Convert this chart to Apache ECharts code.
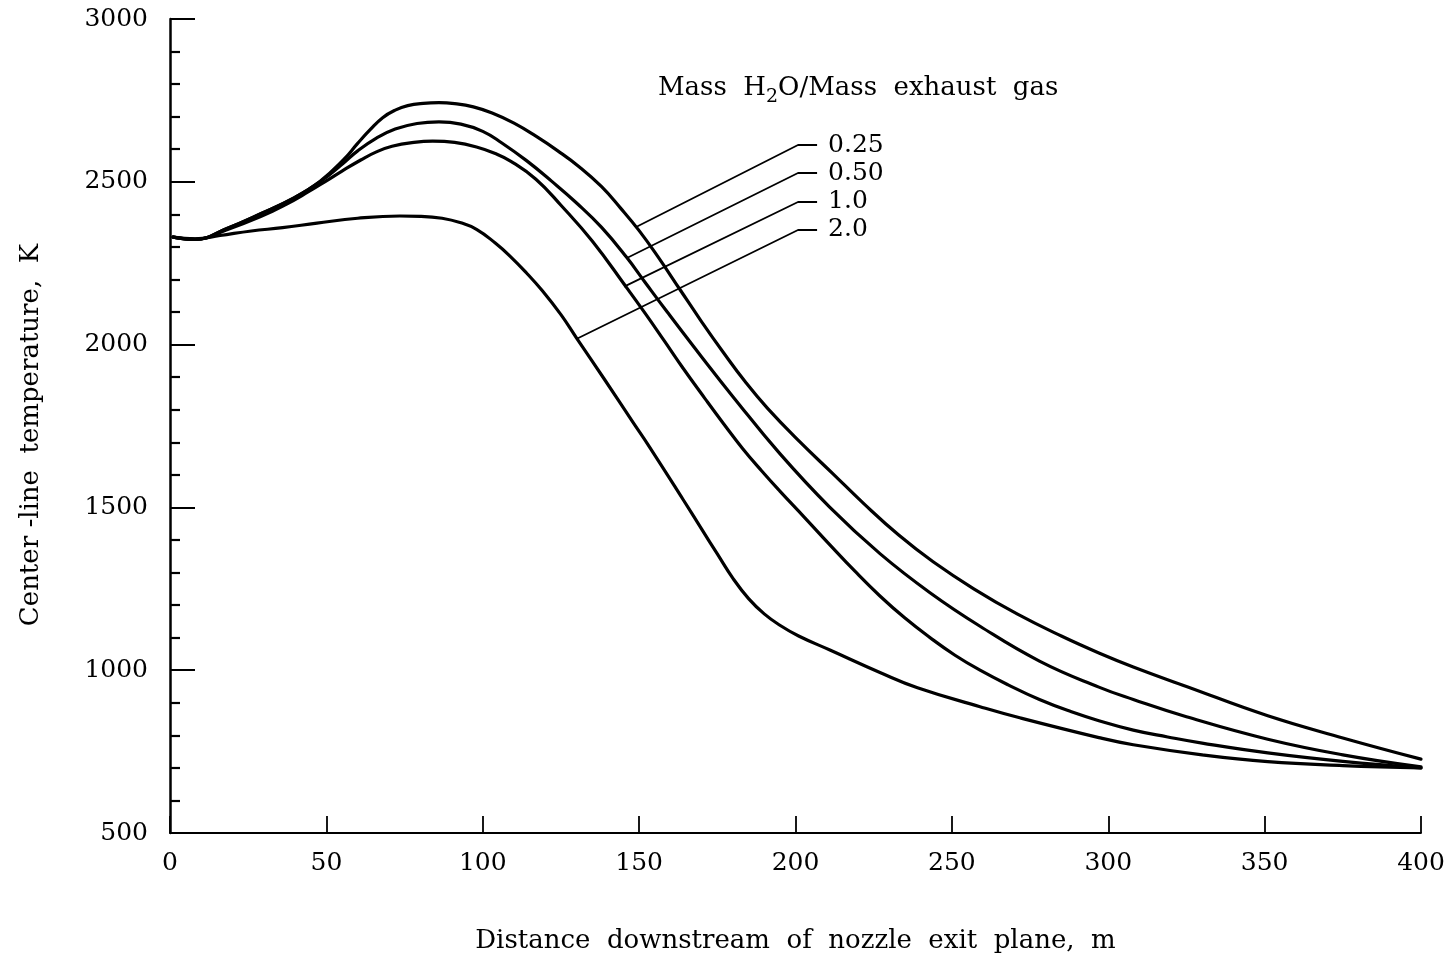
<!DOCTYPE html>
<html>
<head>
<meta charset="utf-8">
<script src="https://cdn.jsdelivr.net/npm/echarts@6/dist/echarts.min.js"></script>
<style>
html,body{margin:0;padding:0;background:#ffffff;}
#chart{width:1454px;height:960px;}
</style>
</head>
<body>
<div id="chart"></div>
<script>
// ---- data (distance downstream, m ; centre-line temperature, K) ----
const x025 = [1, 8, 18, 29, 39.5, 48, 55.5, 60, 64, 68, 72, 76, 81, 86, 91, 97, 103, 110, 117, 124, 131, 138, 144, 150, 156, 163, 170, 177, 184, 191, 201, 212, 222, 233, 244, 257, 271, 285, 297, 308, 325, 351, 375, 400];
const t025 = [2330, 2323, 2356, 2402, 2450, 2502, 2568, 2618, 2660, 2697, 2720, 2734, 2741, 2743, 2740, 2730, 2711, 2680, 2640, 2595, 2545, 2485, 2420, 2350, 2270, 2170, 2070, 1975, 1885, 1805, 1705, 1603, 1510, 1415, 1333, 1250, 1172, 1105, 1053, 1010, 950, 860, 792, 727];

const x050 = [1, 8, 18, 29, 39.5, 48, 55.5, 60, 66, 72, 79, 86, 93, 100, 106, 114, 122, 130, 138, 146, 152, 159, 170, 180, 195, 211, 227, 243, 259, 278, 297, 308, 325, 351, 375, 400];
const t050 = [2330, 2323, 2356, 2402, 2450, 2500, 2558, 2595, 2634, 2662, 2679, 2684, 2677, 2655, 2620, 2565, 2502, 2435, 2360, 2268, 2190, 2100, 1962, 1840, 1665, 1500, 1358, 1238, 1135, 1028, 948, 910, 857, 788, 740, 703];

const x100 = [1, 8, 18, 29, 37, 44, 50, 55, 61, 66, 71, 78, 84, 91, 98, 104, 109, 117, 125, 135, 146, 152, 158, 164, 171, 177, 183, 189, 195, 203, 211, 219, 227, 235, 243, 251, 259, 268, 278, 288, 297, 308, 319, 330, 351, 375, 400];
const t100 = [2330, 2323, 2352, 2393, 2430, 2468, 2503, 2533, 2567, 2592, 2609, 2621, 2625, 2621, 2607, 2587, 2563, 2508, 2428, 2318, 2175, 2095, 2012, 1928, 1835, 1757, 1682, 1614, 1550, 1468, 1385, 1304, 1228, 1160, 1100, 1046, 1000, 955, 910, 873, 845, 816, 795, 776, 746, 720, 700];

const x200 = [1, 8, 16, 26, 36, 47, 60, 73.5, 80, 87, 93, 98, 104, 108.7, 114, 119, 125, 130, 139, 148, 153.5, 164, 170, 175, 180, 185, 190, 195, 201, 211, 227, 239, 259, 272, 297, 308, 330, 351, 375, 400];
const t200 = [2330, 2325, 2335, 2349, 2359, 2373, 2388, 2395, 2394, 2388, 2374, 2354, 2312, 2272, 2220, 2166, 2092, 2020, 1892, 1762, 1683, 1525, 1433, 1357, 1282, 1220, 1173, 1138, 1105, 1062, 993, 946, 888, 853, 793, 771, 740, 719, 707, 700];

// leader lines from each curve to its label (data coordinates)
const leaderNames = ['0.25', '0.50', '1.0', '2.0'];
const leaderX = [
  [149.2, 200.8, 206.9],
  [146.1, 200.8, 206.9],
  [145.2, 200.8, 206.9],
  [130.1, 200.8, 206.9]
];
const leaderT = [
  [2362, 2613, 2613],
  [2266, 2527, 2527],
  [2178, 2438, 2438],
  [2018, 2352, 2352]
];

// axis ticks
const xMin = 0, xMax = 400, xStep = 50;
const yMin = 500, yMax = 3000, yStep = 500;

// legend heading pieces: text, subscript, text
const headParts = ['Mass  H', '2', 'O/Mass  exhaust  gas'];

const FONT = '"DejaVu Serif", "Liberation Serif", serif';
const FS = 25;
const HFS = 26;
const SUB = 19;

function pairs(xs, ts) { return xs.map((x, i) => [x, ts[i]]); }

const curves = [
  { name: '0.25', xs: x025, ts: t025 },
  { name: '0.50', xs: x050, ts: t050 },
  { name: '1.0', xs: x100, ts: t100 },
  { name: '2.0', xs: x200, ts: t200 }
];

const series = [];
curves.forEach(c => {
  series.push({
    name: c.name,
    type: 'line',
    data: pairs(c.xs, c.ts),
    smooth: 0.45,
    showSymbol: false,
    symbol: 'none',
    lineStyle: { color: '#000', width: 3.2, cap: 'round', join: 'round' },
    z: 3
  });
});

leaderNames.forEach((nm, k) => {
  series.push({
    name: 'leader ' + nm,
    type: 'line',
    data: pairs(leaderX[k], leaderT[k]),
    smooth: false,
    showSymbol: false,
    symbol: 'none',
    lineStyle: { color: '#000', width: 1.8 },
    endLabel: {
      show: true, formatter: nm, distance: 11,
      color: '#000', fontFamily: FONT, fontSize: FS
    },
    z: 2
  });
});

// measure heading parts for subscript placement
const mctx = document.createElement('canvas').getContext('2d');
function tw(t, size) { mctx.font = size + 'px "DejaVu Serif"'; return mctx.measureText(t).width; }
const hx0 = 658, hy0 = 75;
const w0 = tw(headParts[0], HFS), w1 = tw(headParts[1], SUB);

const chart = echarts.init(document.getElementById('chart'), null, { renderer: 'canvas' });
chart.setOption({
  animation: false,
  backgroundColor: '#ffffff',
  grid: { left: 170, right: 33, top: 19, bottom: 127, containLabel: false },
  xAxis: {
    type: 'value',
    min: xMin, max: xMax, interval: xStep,
    name: 'Distance  downstream  of  nozzle  exit  plane,  m',
    nameLocation: 'middle',
    nameGap: 95,
    nameTextStyle: { color: '#000', fontFamily: FONT, fontSize: 26 },
    axisLine: { show: true, onZero: false, lineStyle: { color: '#000', width: 1.8 } },
    axisTick: { show: true, inside: true, length: 17, lineStyle: { color: '#000', width: 1.8 } },
    axisLabel: { color: '#000', fontFamily: FONT, fontSize: FS, margin: 18, formatter: v => String(v) },
    splitLine: { show: false }
  },
  yAxis: {
    type: 'value',
    min: yMin, max: yMax, interval: yStep,
    name: 'Center -line  temperature,  K',
    nameLocation: 'middle',
    nameGap: 126,
    nameTextStyle: { color: '#000', fontFamily: FONT, fontSize: 26, padding: [0, 18, 0, 0] },
    axisLine: { show: true, onZero: false, lineStyle: { color: '#000', width: 2.5 } },
    axisTick: { show: true, inside: true, length: 25, lineStyle: { color: '#000', width: 2 } },
    minorTick: { show: true, splitNumber: 5, length: 10, lineStyle: { color: '#000', width: 2.2 } },
    axisLabel: { color: '#000', fontFamily: FONT, fontSize: FS, margin: 22, formatter: v => String(v) },
    splitLine: { show: false },
    minorSplitLine: { show: false }
  },
  graphic: [
    { type: 'text', x: hx0, y: hy0, style: { text: headParts[0], fill: '#000', font: HFS + 'px ' + FONT, textVerticalAlign: 'top' } },
    { type: 'text', x: hx0 + w0, y: hy0 + 13, style: { text: headParts[1], fill: '#000', font: SUB + 'px ' + FONT, textVerticalAlign: 'top' } },
    { type: 'text', x: hx0 + w0 + w1, y: hy0, style: { text: headParts[2], fill: '#000', font: HFS + 'px ' + FONT, textVerticalAlign: 'top' } }
  ],
  series: series
});
</script>
</body>
</html>
